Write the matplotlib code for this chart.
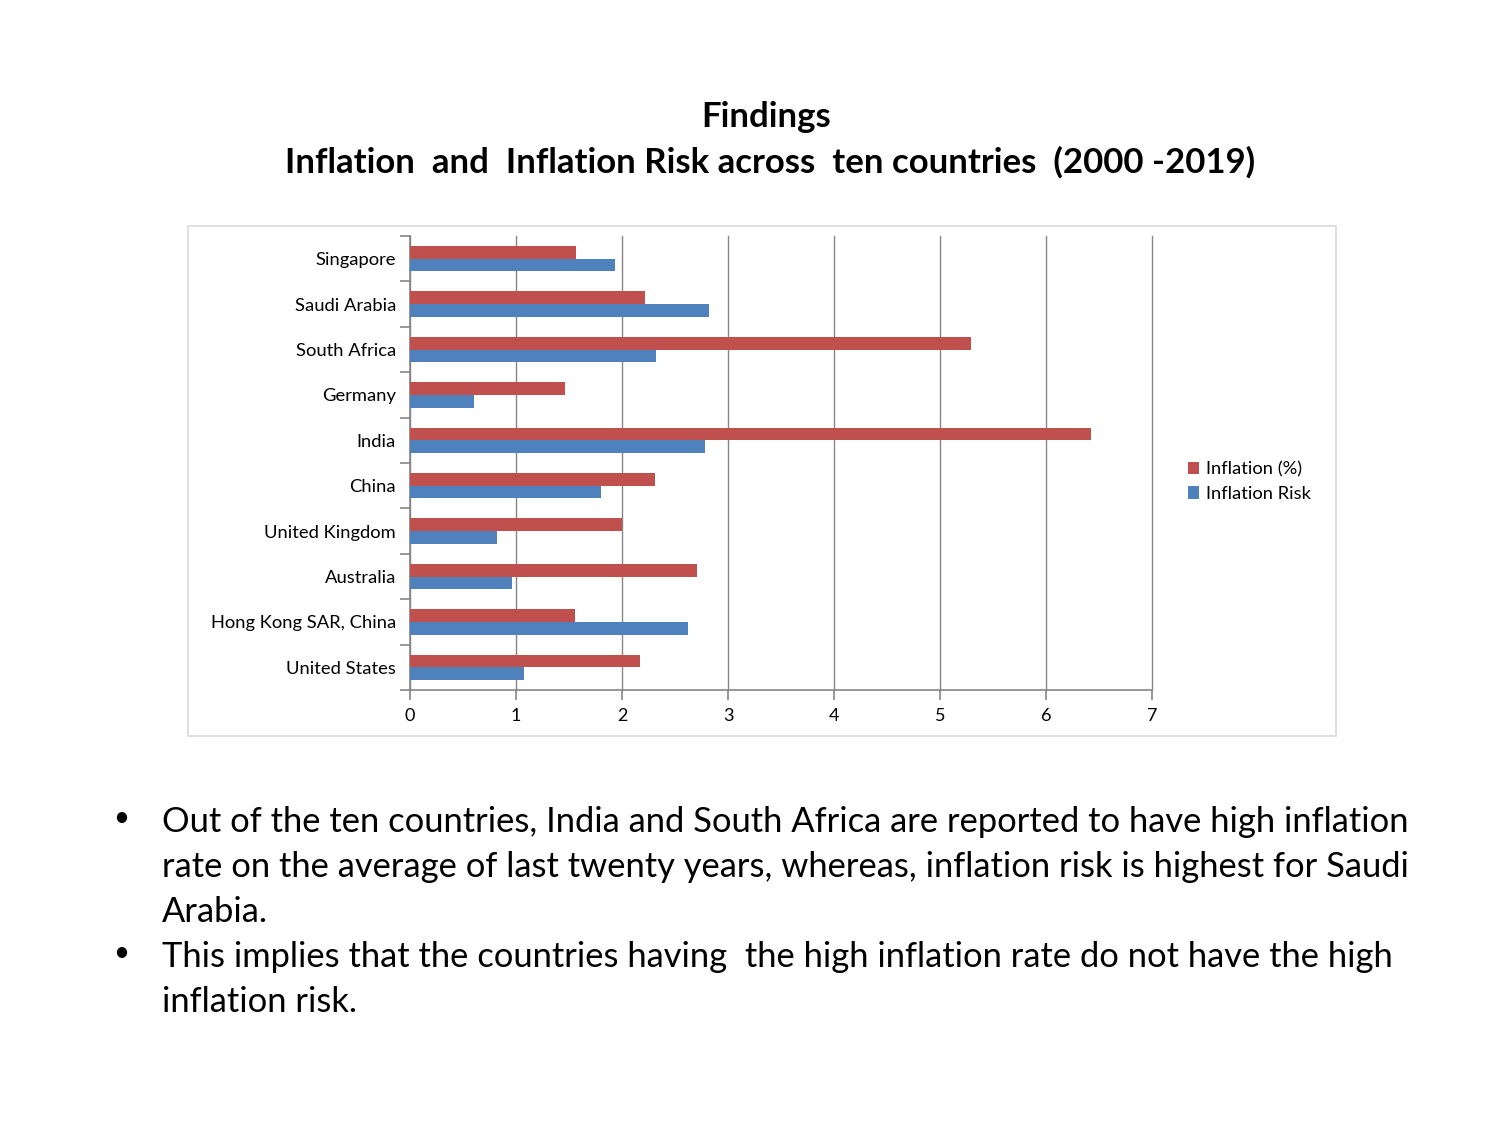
import matplotlib
matplotlib.use("Agg")
import matplotlib.pyplot as plt
from matplotlib.patches import Rectangle
from matplotlib.ticker import FixedLocator
import numpy as np

plt.rcParams['font.family'] = ['Lato', 'DejaVu Sans']

countries = ["Singapore", "Saudi Arabia", "South Africa", "Germany", "India",
             "China", "United Kingdom", "Australia", "Hong Kong SAR, China", "United States"]
inflation = [1.57, 2.22, 5.29, 1.46, 6.42, 2.31, 2.00, 2.71, 1.56, 2.17]
inflation_risk = [1.93, 2.82, 2.32, 0.60, 2.78, 1.80, 0.82, 0.96, 2.62, 1.08]
x_ticks = [0, 1, 2, 3, 4, 5, 6, 7]

red = "#C0504D"
blue = "#4F81BD"
axis_gray = "#868686"

fig = plt.figure(figsize=(15, 11.25), dpi=100)

# chart border
fig.patches.append(Rectangle((188/1500, 1-736/1125), (1336-188)/1500, (736-226)/1125,
                             transform=fig.transFigure, fill=False,
                             edgecolor="#D9D9D9", linewidth=1.2))

ax = fig.add_axes([410/1500, 1-690/1125, (1152-410)/1500, (690-236)/1125])

n = len(countries)
y = np.arange(n)[::-1].astype(float)  # Singapore on top
h = 0.28
ax.barh(y + h/2, inflation, height=h, color=red, label="Inflation (%)", zorder=3)
ax.barh(y - h/2, inflation_risk, height=h, color=blue, label="Inflation Risk", zorder=3)

ax.set_xlim(0, 7)
ax.set_ylim(-0.5, n - 0.5)
ax.set_xticks(x_ticks)
ax.set_xticklabels([str(t) for t in x_ticks], fontsize=13)
ax.set_yticks(y)
ax.set_yticklabels(countries, fontsize=13.2)
ax.yaxis.set_minor_locator(FixedLocator(np.arange(-0.5, n, 1.0)))
ax.tick_params(axis='y', which='major', length=0, pad=10)
ax.tick_params(axis='y', which='minor', length=7, color=axis_gray, width=1.2)
ax.tick_params(axis='x', which='major', length=7, color=axis_gray, width=1.2, pad=6)

ax.grid(axis='x', color=axis_gray, linewidth=1.0, zorder=0)
for gl in ax.get_xgridlines():
    gl.set_clip_on(False)
for s in ['top', 'right']:
    ax.spines[s].set_visible(False)
for s in ['left', 'bottom']:
    ax.spines[s].set_color(axis_gray)
    ax.spines[s].set_linewidth(1.2)

leg = fig.legend(loc='upper left', bbox_to_anchor=(1171/1500, 1-445/1125),
                 frameon=False, fontsize=13.2, handlelength=0.65, handleheight=0.65,
                 handletextpad=0.35, labelspacing=0.45)

fig.text(766/1500, 1-117/1125, "Findings", ha='center', va='center',
         fontsize=25, fontweight='bold')
fig.text(770/1500, 1-162/1125,
         "Inflation  and  Inflation Risk across  ten countries  (2000 -2019)",
         ha='center', va='center', fontsize=25, fontweight='bold')

lines = [
    (822, True, "Out of the ten countries, India and South Africa are reported to have high inflation"),
    (867, False, "rate on the average of last twenty years, whereas, inflation risk is highest for Saudi"),
    (912, False, "Arabia."),
    (957, True, "This implies that the countries having  the high inflation rate do not have the high"),
    (1002, False, "inflation risk."),
]
for yy, bullet, txt in lines:
    if bullet:
        fig.text(121/1500, 1-(yy-4)/1125, "•", ha='center', va='center', fontsize=20)
    fig.text(162/1500, 1-yy/1125, txt, ha='left', va='center', fontsize=24.8)

fig.savefig("out.png", dpi=100)
